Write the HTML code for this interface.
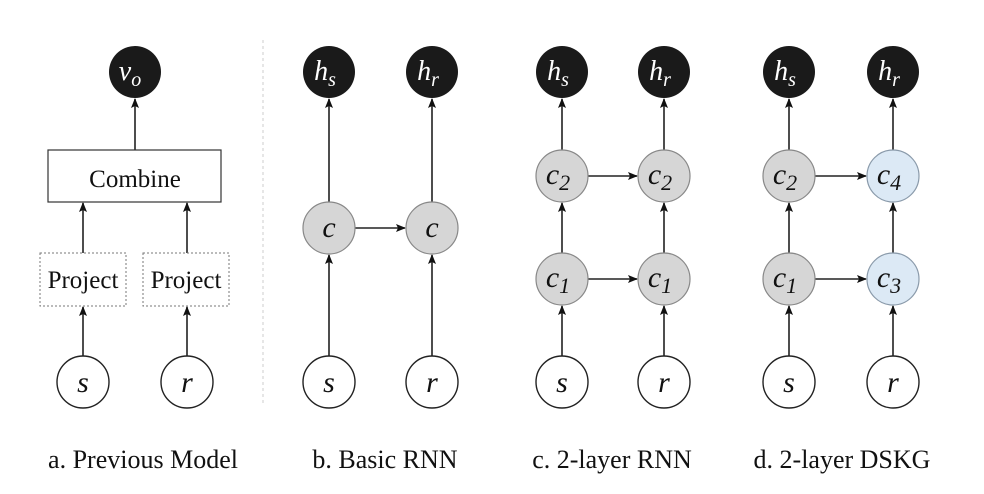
<!DOCTYPE html>
<html><head><style>html,body{margin:0;padding:0;background:#fff}svg{display:block}</style></head>
<body>
<svg width="984" height="494" viewBox="0 0 984 494" xmlns="http://www.w3.org/2000/svg" font-family="'Liberation Serif', serif">
<defs>
<marker id="a" markerWidth="10" markerHeight="8" refX="9" refY="4" orient="auto" markerUnits="userSpaceOnUse">
<path d="M0,0 L10,4 L0,8 L2,4 z" fill="#111"/></marker>
</defs>
<g stroke="#222" stroke-width="1.6" fill="none" marker-end="url(#a)">
<line x1="135" y1="150" x2="135" y2="99"/>
<line x1="83" y1="253" x2="83" y2="203"/>
<line x1="187" y1="253" x2="187" y2="203"/>
<line x1="83" y1="356" x2="83" y2="307"/>
<line x1="187" y1="356" x2="187" y2="307"/>
<line x1="329" y1="202" x2="329" y2="99"/>
<line x1="432" y1="202" x2="432" y2="99"/>
<line x1="329" y1="356" x2="329" y2="255"/>
<line x1="432" y1="356" x2="432" y2="255"/>
<line x1="355" y1="228" x2="405" y2="228"/>
<line x1="562" y1="150" x2="562" y2="99"/>
<line x1="664" y1="150" x2="664" y2="99"/>
<line x1="562" y1="253" x2="562" y2="203"/>
<line x1="664" y1="253" x2="664" y2="203"/>
<line x1="562" y1="356" x2="562" y2="306"/>
<line x1="664" y1="356" x2="664" y2="306"/>
<line x1="588" y1="176" x2="637" y2="176"/>
<line x1="588" y1="279" x2="637" y2="279"/>
<line x1="789" y1="150" x2="789" y2="99"/>
<line x1="893" y1="150" x2="893" y2="99"/>
<line x1="789" y1="253" x2="789" y2="203"/>
<line x1="893" y1="253" x2="893" y2="203"/>
<line x1="789" y1="356" x2="789" y2="306"/>
<line x1="893" y1="356" x2="893" y2="306"/>
<line x1="815" y1="176" x2="866" y2="176"/>
<line x1="815" y1="279" x2="866" y2="279"/>
</g>
<line x1="263" y1="40" x2="263" y2="405" stroke="#ccc" stroke-width="1" stroke-dasharray="3,3"/>
<rect x="48" y="150" width="173" height="52" fill="#fff" stroke="#333" stroke-width="1.2"/>
<text x="135" y="187" font-size="25" text-anchor="middle" fill="#111">Combine</text>
<rect x="40" y="253" width="86" height="53" fill="#fff" stroke="#777" stroke-width="1" stroke-dasharray="2,2"/>
<rect x="143" y="253" width="86" height="53" fill="#fff" stroke="#777" stroke-width="1" stroke-dasharray="2,2"/>
<text x="83" y="288" font-size="25" text-anchor="middle" fill="#111">Project</text>
<text x="186" y="288" font-size="25" text-anchor="middle" fill="#111">Project</text>
<g fill="#1a1a1a">
<circle cx="135" cy="72" r="26"/>
<circle cx="329" cy="72" r="26"/><circle cx="432" cy="72" r="26"/>
<circle cx="562" cy="72" r="26"/><circle cx="664" cy="72" r="26"/>
<circle cx="789" cy="72" r="26"/><circle cx="893" cy="72" r="26"/>
</g>
<g fill="#fff" font-style="italic" font-size="28" text-anchor="middle">
<text x="130" y="80">v<tspan font-size="20" dy="6">o</tspan></text>
<text x="325" y="80">h<tspan font-size="20" dy="6">s</tspan></text>
<text x="428" y="80">h<tspan font-size="20" dy="6">r</tspan></text>
<text x="558" y="80">h<tspan font-size="20" dy="6">s</tspan></text>
<text x="660" y="80">h<tspan font-size="20" dy="6">r</tspan></text>
<text x="785" y="80">h<tspan font-size="20" dy="6">s</tspan></text>
<text x="889" y="80">h<tspan font-size="20" dy="6">r</tspan></text>
</g>
<g fill="#d6d6d6" stroke="#888" stroke-width="1.2">
<circle cx="329" cy="228" r="26"/><circle cx="432" cy="228" r="26"/>
<circle cx="562" cy="176" r="26"/><circle cx="664" cy="176" r="26"/>
<circle cx="562" cy="279" r="26"/><circle cx="664" cy="279" r="26"/>
<circle cx="789" cy="176" r="26"/><circle cx="789" cy="279" r="26"/>
</g>
<g fill="#dce9f5" stroke="#8a9aaa" stroke-width="1.2">
<circle cx="893" cy="176" r="26"/><circle cx="893" cy="279" r="26"/>
</g>
<g fill="#fff" stroke="#222" stroke-width="1.4">
<circle cx="83" cy="382" r="26"/><circle cx="187" cy="382" r="26"/>
<circle cx="329" cy="382" r="26"/><circle cx="432" cy="382" r="26"/>
<circle cx="562" cy="382" r="26"/><circle cx="664" cy="382" r="26"/>
<circle cx="789" cy="382" r="26"/><circle cx="893" cy="382" r="26"/>
</g>
<g fill="#111" font-style="italic" font-size="30" text-anchor="middle">
<text x="329" y="237">c</text><text x="432" y="237">c</text>
<text x="558" y="184">c<tspan font-size="22" dy="6">2</tspan></text>
<text x="660" y="184">c<tspan font-size="22" dy="6">2</tspan></text>
<text x="558" y="287">c<tspan font-size="22" dy="6">1</tspan></text>
<text x="660" y="287">c<tspan font-size="22" dy="6">1</tspan></text>
<text x="785" y="184">c<tspan font-size="22" dy="6">2</tspan></text>
<text x="785" y="287">c<tspan font-size="22" dy="6">1</tspan></text>
<text x="889" y="184">c<tspan font-size="22" dy="6">4</tspan></text>
<text x="889" y="287">c<tspan font-size="22" dy="6">3</tspan></text>
<text x="83" y="392">s</text><text x="187" y="392">r</text>
<text x="329" y="392">s</text><text x="432" y="392">r</text>
<text x="562" y="392">s</text><text x="664" y="392">r</text>
<text x="789" y="392">s</text><text x="893" y="392">r</text>
</g>
<g fill="#111" font-size="26" text-anchor="middle">
<text x="143" y="468">a. Previous Model</text>
<text x="385" y="468">b. Basic RNN</text>
<text x="612" y="468">c. 2-layer RNN</text>
<text x="842" y="468">d. 2-layer DSKG</text>
</g>
</svg>
</body></html>
